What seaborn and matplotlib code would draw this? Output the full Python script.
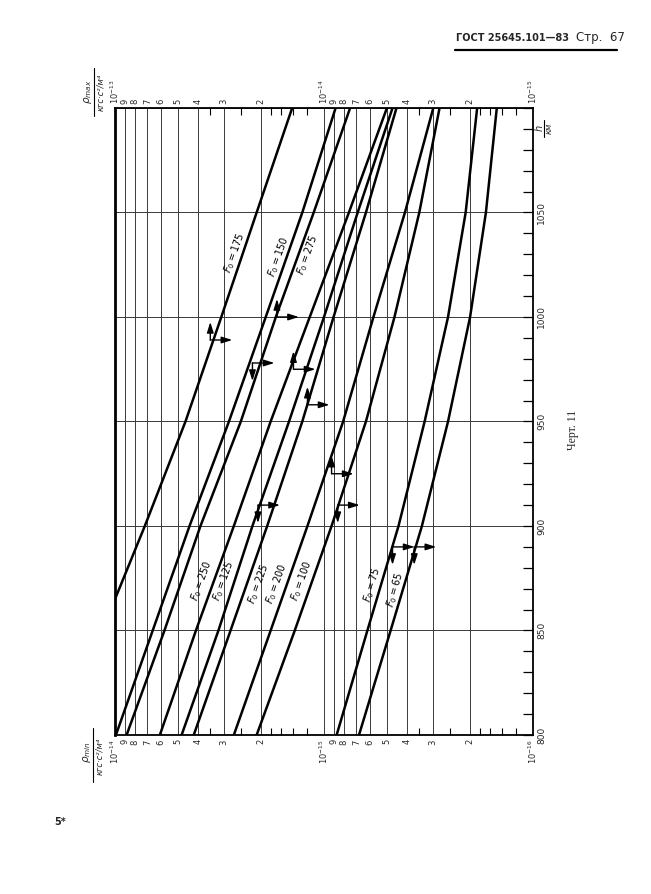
import matplotlib
matplotlib.use("Agg")
import matplotlib.pyplot as plt
import matplotlib.ticker as mticker
from matplotlib.lines import Line2D
import pandas as pd
import seaborn as sns

sns.set_theme(style="white")
plt.rcParams["font.family"] = ["DejaVu Sans"]
plt.rcParams["mathtext.fontset"] = "dejavusans"

# heights, km
H = [800, 850, 900, 950, 1000, 1050, 1100]
H_F175 = [865, 900, 950, 1000, 1050, 1100]

# density as read on the lower (rho_min) scale, kgf*s^2/m^4; upper scale is x10
RHO_F175 = [1.0e-14, 7.2e-15, 4.6e-15, 3.1e-15, 2.1e-15, 1.42e-15]
RHO_F150 = [9.9e-15, 6.6e-15, 4.4e-15, 2.85e-15, 1.9e-15, 1.27e-15, 8.8e-16]
RHO_F275 = [8.8e-15, 5.8e-15, 3.9e-15, 2.5e-15, 1.7e-15, 1.12e-15, 7.5e-16]
RHO_F250 = [6.1e-15, 4.1e-15, 2.7e-15, 1.8e-15, 1.17e-15, 7.6e-16, 5.0e-16]
RHO_F125 = [4.8e-15, 3.2e-15, 2.2e-15, 1.47e-15, 1.0e-15, 6.9e-16, 4.7e-16]
RHO_F225 = [4.2e-15, 2.8e-15, 1.87e-15, 1.27e-15, 9.0e-16, 6.3e-16, 4.5e-16]
RHO_F200 = [2.7e-15, 1.8e-15, 1.2e-15, 8.1e-16, 5.8e-16, 4.1e-16, 3.0e-16]
RHO_F100 = [2.1e-15, 1.38e-15, 9.2e-16, 6.3e-16, 4.6e-16, 3.5e-16, 2.8e-16]
RHO_F75 = [8.7e-16, 6.2e-16, 4.4e-16, 3.3e-16, 2.55e-16, 2.1e-16, 1.85e-16]
RHO_F65 = [6.8e-16, 4.8e-16, 3.4e-16, 2.55e-16, 2.0e-16, 1.68e-16, 1.49e-16]

CURVES = {
    "175": (H_F175, RHO_F175),
    "150": (H, RHO_F150),
    "275": (H, RHO_F275),
    "250": (H, RHO_F250),
    "125": (H, RHO_F125),
    "225": (H, RHO_F225),
    "200": (H, RHO_F200),
    "100": (H, RHO_F100),
    "75": (H, RHO_F75),
    "65": (H, RHO_F65),
}

# curve label: point index on curve, offset in pixels, rotation
LABELS = {
    "175": (4, -22, -40, 70),
    "150": (5, -24, -44, 70),
    "275": (5, -6, -42, 70),
    "250": (1, 6, 50, 70),
    "125": (1, 5, 50, 70),
    "225": (1, 28, 47, 70),
    "200": (1, 6, 47, 70),
    "100": (1, 7, 50, 70),
    "75": (2, -26, -59, 74),
    "65": (2, -27, -64, 74),
}

# reading arrows: origin (rho on lower scale, h) and vertical direction
ARROW_RHO = [3.5e-15, 2.2e-15, 1.68e-15, 1.4e-15, 2.07e-15, 9.2e-16, 8.6e-16, 4.7e-16, 3.7e-16, 1.2e-15]
ARROW_H = [989, 978, 1000, 975, 910, 925, 910, 890, 890, 958]
ARROW_UP = [True, False, True, True, False, True, False, False, False, True]

MANTISSA = [2, 3, 4, 5, 6, 7, 8, 9]
MINOR_MANT = [1.2, 1.4, 1.6, 1.8, 2.5, 3.5]


def density_ticks(decades):
    major = []
    labels = []
    for e in decades:
        major.append(10.0 ** e)
        labels.append(f"$10^{{{e}}}$")
    for e in decades[1:]:
        for m in MANTISSA:
            major.append(m * 10.0 ** e)
            labels.append(str(m))
    minor = [m * 10.0 ** e for e in decades[1:] for m in MINOR_MANT]
    return major, labels, minor


frame = pd.concat(
    [pd.DataFrame({"F0": k, "h": hh, "rho": rr}) for k, (hh, rr) in CURVES.items()],
    ignore_index=True,
)

fig = plt.figure(figsize=(6.51, 8.94), dpi=100)
fig.patch.set_facecolor("white")
ax = fig.add_axes([115 / 651, 1 - 735 / 894, 418 / 651, 627 / 894])
ax.set_xscale("log")
ax.set_xlim(1e-14, 1e-16)
ax.set_ylim(800, 1100)

sns.lineplot(data=frame, x="rho", y="h", units="F0", estimator=None, sort=False,
             color="black", linewidth=1.8, legend=False, ax=ax)
ax.set_xlabel("")
ax.set_ylabel("")

# bottom (rho_min) scale
major, labels, minor = density_ticks([-14, -15, -16])
ax.xaxis.set_major_locator(mticker.FixedLocator(major))
ax.xaxis.set_major_formatter(mticker.FixedFormatter(labels))
ax.xaxis.set_minor_locator(mticker.FixedLocator(minor))
ax.xaxis.set_minor_formatter(mticker.NullFormatter())
ax.tick_params(axis="x", which="major", length=0, pad=3, labelsize=6, labelrotation=90)
ax.tick_params(axis="x", which="minor", direction="in", length=5, width=0.8, color="black")

# top (rho_max) scale
top = ax.twiny()
top.set_xscale("log")
top.set_xlim(1e-13, 1e-15)
major, labels, minor = density_ticks([-13, -14, -15])
top.xaxis.set_major_locator(mticker.FixedLocator(major))
top.xaxis.set_major_formatter(mticker.FixedFormatter(labels))
top.xaxis.set_minor_locator(mticker.FixedLocator(minor))
top.xaxis.set_minor_formatter(mticker.NullFormatter())
top.tick_params(axis="x", which="major", length=0, pad=3, labelsize=6, labelrotation=90)
top.tick_params(axis="x", which="minor", direction="in", length=5, width=0.8, color="black")
top.grid(False)

# height scale on the right
ax.yaxis.tick_right()
ax.yaxis.set_major_locator(mticker.MultipleLocator(50))
ax.yaxis.set_minor_locator(mticker.MultipleLocator(10))
ax.yaxis.set_major_formatter(mticker.FuncFormatter(lambda v, p: "" if v > 1060 else f"{v:.0f}"))
ax.tick_params(axis="y", which="both", direction="in", length=7, width=0.9, color="black",
               right=True, left=False, labelsize=6.5, labelrotation=90, pad=3)
for t in ax.get_yticklabels():
    t.set_va("center")

ax.grid(True, which="major", color="#3a3a3a", linewidth=0.7)
for side, sp in ax.spines.items():
    sp.set_color("black")
    sp.set_linewidth(1.3)
ax.spines["left"].set_linewidth(2.0)
for sp in top.spines.values():
    sp.set_visible(False)

# curve labels
for k, (i, dx, dy, rot) in LABELS.items():
    hh, rr = CURVES[k]
    ax.annotate(f"$F_0={k}$", xy=(rr[i], hh[i]), xytext=(dx, dy), textcoords="offset pixels",
                rotation=rot, ha="center", va="center", fontsize=7, color="black")

# reading arrows
head = "<|-,head_length=0.7,head_width=0.22"
for r, h, up in zip(ARROW_RHO, ARROW_H, ARROW_UP):
    ax.annotate("", xy=(r, h), xytext=(0, 18 if up else -18), textcoords="offset pixels",
                arrowprops=dict(arrowstyle=head, color="black", lw=1.0, shrinkA=0, shrinkB=0,
                                mutation_scale=9))
    ax.annotate("", xy=(r, h), xytext=(22, 0), textcoords="offset pixels",
                arrowprops=dict(arrowstyle=head, color="black", lw=1.0, shrinkA=0, shrinkB=0,
                                mutation_scale=9))


def ftext(x, y, s, **kw):
    fig.text(x / 651, 1 - y / 894, s, **kw)


def fline(x0, y0, x1, y1, lw=0.8):
    fig.add_artist(Line2D([x0 / 651, x1 / 651], [1 - y0 / 894, 1 - y1 / 894],
                          color="black", linewidth=lw))


# axis titles (rotated fractions)
ftext(88, 92, r"$\rho_{max}$", rotation=90, ha="center", va="center", fontsize=7.5)
fline(94, 68, 94, 116)
ftext(101, 92, "кгс·с²/м⁴", rotation=90, ha="center", va="center", fontsize=6, style="italic")

ftext(87, 752, r"$\rho_{min}$", rotation=90, ha="center", va="center", fontsize=7.5)
fline(93, 728, 93, 782)
ftext(100, 756, "кгс·с²/м⁴", rotation=90, ha="center", va="center", fontsize=6, style="italic")

ftext(539, 128, r"$h$", rotation=90, ha="center", va="center", fontsize=7)
fline(544, 120, 544, 137)
ftext(549, 128, "км", rotation=90, ha="center", va="center", fontsize=6, style="italic")

# page furniture
ftext(456, 38, "ГОСТ 25645.101—83", ha="left", va="center", fontsize=7, fontweight="bold")
ftext(576, 38, "Стр.  67", ha="left", va="center", fontsize=8.5)
fline(455, 50, 617, 50, lw=1.6)
ftext(573, 430, "Черт. 11", rotation=90, ha="center", va="center", fontsize=8.5,
      family=["Liberation Serif", "DejaVu Serif"])
ftext(60, 822, "5*", ha="center", va="center", fontsize=7, fontweight="bold")

fig.savefig("out.png", dpi=100, facecolor="white")
